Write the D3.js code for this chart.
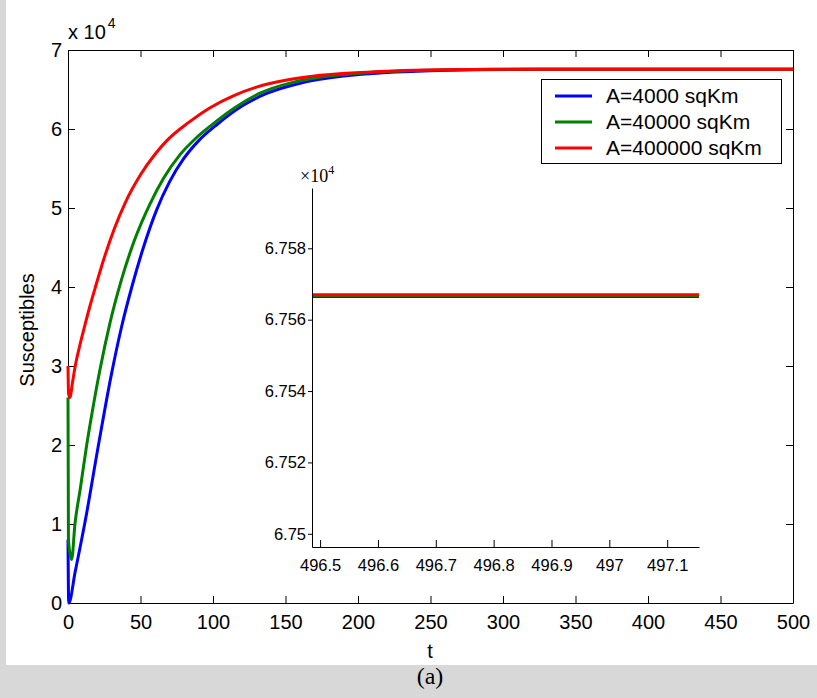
<!DOCTYPE html>
<html>
<head>
<meta charset="utf-8">
<script src="https://cdn.jsdelivr.net/npm/d3@7"></script>
<style>
  body { margin: 0; background: #d8d8d8; }
  svg { display: block; }
</style>
</head>
<body>
<div class="chart-container"></div>
<script>
//! DATA  (susceptibles in units of 10^4)
const SERIES_NAMES = ['A=4000 sqKm', 'A=40000 sqKm', 'A=400000 sqKm'];
const SERIES_COLORS = ['#0000ff', '#007f00', '#ff0000'];

const T_BLUE = [0, 0.5, 5, 12, 21, 30, 37, 44, 52, 61, 70, 80, 90, 103, 120, 137, 160, 190, 220, 250, 280, 320, 500];
const S_BLUE = [0.8, 0, 0.4, 1.05, 2.0, 2.9, 3.5, 4.0, 4.5, 4.97, 5.33, 5.63, 5.85, 6.06, 6.29, 6.45, 6.58, 6.67, 6.715, 6.738, 6.75, 6.7567, 6.7567];

const T_GREEN = [0, 0.3, 2.5, 4.8, 8.5, 12.9, 17, 22, 29, 37, 46, 56.5, 66, 77, 88, 99, 115, 132, 155, 180, 208, 240, 280, 320, 500];
const S_GREEN = [2.6, 0.8, 0.55, 1.0, 1.45, 2.0, 2.45, 2.95, 3.55, 4.1, 4.6, 5.05, 5.38, 5.67, 5.88, 6.05, 6.27, 6.45, 6.59, 6.67, 6.715, 6.74, 6.753, 6.7567, 6.7567];

const T_RED = [0, 0.4, 1.4, 3, 5, 8, 11.7, 15, 18.6, 25, 32, 39.3, 50, 60, 68, 83, 98, 114, 130, 151, 170, 192, 225, 259, 300, 500];
const S_RED = [3.0, 2.65, 2.6, 2.78, 3.0, 3.25, 3.52, 3.75, 3.98, 4.37, 4.74, 5.06, 5.42, 5.68, 5.85, 6.08, 6.27, 6.42, 6.53, 6.62, 6.67, 6.705, 6.735, 6.75, 6.7567, 6.7567];

const X_TICKS = [0, 50, 100, 150, 200, 250, 300, 350, 400, 450, 500];
const Y_TICKS = [0, 1, 2, 3, 4, 5, 6, 7];

// inset: zoom on the tail
const INSET_T = [496.486, 497.155];
const INSET_S_BLUE = [6.75665, 6.75665];
const INSET_S_GREEN = [6.756672, 6.756672];
const INSET_S_RED = [6.7567, 6.7567];
const INSET_X_TICKS = [496.5, 496.6, 496.7, 496.8, 496.9, 497, 497.1];
const INSET_Y_TICKS = [6.75, 6.752, 6.754, 6.756, 6.758];

//! CONSTS
const WIDTH = 817;
const HEIGHT = 698;
const M = { left: 68, top: 50, right: 793, bottom: 603 };
const INS = { left: 312, top: 188, right: 699, bottom: 547 };
const SANS = 'Liberation Sans, Arial, Helvetica, sans-serif';
const SERIF = 'Liberation Serif, Times New Roman, serif';

//! SVG
const svg = d3.select('.chart-container')
  .append('svg')
  .attr('width', WIDTH)
  .attr('height', HEIGHT);

svg.append('rect')
  .attr('x', 6).attr('y', 0)
  .attr('width', WIDTH - 6).attr('height', 665)
  .attr('fill', '#ffffff');

// !SCALES
const x = d3.scaleLinear().domain([0, 500]).range([M.left, M.right]);
const y = d3.scaleLinear().domain([0, 7]).range([M.bottom, M.top]);

const line = d3.line()
  .x(d => x(d[0]))
  .y(d => y(d[1]))
  .curve(d3.curveMonotoneX);

const styleAxis = (g, size) => {
  g.attr('font-family', SANS).attr('font-size', size);
  g.selectAll('line, path').attr('stroke', '#000').attr('stroke-width', 1);
  g.selectAll('text').attr('fill', '#000');
};

// main box axes, ticks pointing inwards like matlab
svg.append('g')
  .attr('transform', `translate(0,${M.bottom})`)
  .call(d3.axisBottom(x).tickValues(X_TICKS).tickSizeInner(-7).tickSizeOuter(0).tickPadding(12)
    .tickFormat(d3.format('d')))
  .call(g => styleAxis(g, 20));

svg.append('g')
  .attr('transform', `translate(0,${M.top})`)
  .call(d3.axisTop(x).tickValues(X_TICKS).tickSizeInner(-7).tickSizeOuter(0).tickFormat(''))
  .call(g => styleAxis(g, 20));

svg.append('g')
  .attr('transform', `translate(${M.left},0)`)
  .call(d3.axisLeft(y).tickValues(Y_TICKS).tickSizeInner(-7).tickSizeOuter(0).tickPadding(6)
    .tickFormat(d3.format('d')))
  .call(g => styleAxis(g, 20));

svg.append('g')
  .attr('transform', `translate(${M.right},0)`)
  .call(d3.axisRight(y).tickValues(Y_TICKS).tickSizeInner(-7).tickSizeOuter(0).tickFormat(''))
  .call(g => styleAxis(g, 20));

// curves
const mainSeries = [
  d3.zip(T_BLUE, S_BLUE),
  d3.zip(T_GREEN, S_GREEN),
  d3.zip(T_RED, S_RED)
];

svg.append('g')
  .selectAll('path')
  .data(mainSeries)
  .enter()
  .append('path')
  .attr('d', line)
  .attr('fill', 'none')
  .attr('stroke', (d, i) => SERIES_COLORS[i])
  .attr('stroke-width', 3)
  .attr('stroke-linejoin', 'round');

// exponent label
const expo = svg.append('text')
  .attr('x', 68).attr('y', 39)
  .attr('font-family', SANS).attr('font-size', 20)
  .text('x 10');
expo.append('tspan')
  .attr('dy', -11).attr('dx', 2)
  .attr('font-size', 14)
  .text('4');

// axis titles
svg.append('text')
  .attr('x', 430).attr('y', 658)
  .attr('text-anchor', 'middle')
  .attr('font-family', SANS).attr('font-size', 20)
  .text('t');

svg.append('text')
  .attr('transform', 'translate(34,330) rotate(-90)')
  .attr('text-anchor', 'middle')
  .attr('font-family', SANS).attr('font-size', 20)
  .text('Susceptibles');

svg.append('text')
  .attr('x', 430).attr('y', 684)
  .attr('text-anchor', 'middle')
  .attr('font-family', SERIF).attr('font-size', 24)
  .text('(a)');

//! LEGEND
const legend = svg.append('g').attr('id', 'legend');
legend.append('rect')
  .attr('x', 541.5).attr('y', 79.5)
  .attr('width', 240).attr('height', 84)
  .attr('fill', '#fff')
  .attr('stroke', '#000');

const rows = legend.selectAll('g.row')
  .data(SERIES_NAMES)
  .enter()
  .append('g')
  .attr('class', 'row')
  .attr('transform', (d, i) => `translate(0,${96 + i * 26})`);

rows.append('line')
  .attr('x1', 555).attr('x2', 592)
  .attr('stroke', (d, i) => SERIES_COLORS[i])
  .attr('stroke-width', 3);

rows.append('text')
  .attr('x', 606).attr('y', 7)
  .attr('font-family', SANS).attr('font-size', 21)
  .text(d => d);

//! INSET
const ix = d3.scaleLinear().domain(INSET_T).range([INS.left, INS.right]);
const iy = d3.scaleLinear().domain([6.74963, 6.75969]).range([INS.bottom, INS.top]);

const insetSeries = [
  d3.zip(INSET_T, INSET_S_BLUE),
  d3.zip(INSET_T, INSET_S_GREEN),
  d3.zip(INSET_T, INSET_S_RED)
];

const inset = svg.append('g').attr('id', 'inset');

inset.selectAll('path.series')
  .data(insetSeries)
  .enter()
  .append('path')
  .attr('class', 'series')
  .attr('d', d3.line().x(d => ix(d[0])).y(d => iy(d[1])))
  .attr('fill', 'none')
  .attr('stroke', (d, i) => SERIES_COLORS[i])
  .attr('stroke-width', 3);

inset.append('g')
  .attr('transform', `translate(0,${INS.bottom})`)
  .call(d3.axisBottom(ix).tickValues(INSET_X_TICKS).tickSizeInner(-7).tickSizeOuter(0).tickPadding(12)
    .tickFormat(d => String(+d.toFixed(1))))
  .call(g => styleAxis(g, 16.5));

inset.append('g')
  .attr('transform', `translate(${INS.left},0)`)
  .call(d3.axisLeft(iy).tickValues(INSET_Y_TICKS).tickSizeInner(4).tickSizeOuter(0).tickPadding(2)
    .tickFormat(d => String(+d.toFixed(3))))
  .call(g => styleAxis(g, 16.5));

const iexpo = inset.append('text')
  .attr('x', 300).attr('y', 182)
  .attr('font-family', SERIF).attr('font-size', 18)
  .text('\u00d710');
iexpo.append('tspan')
  .attr('dy', -8)
  .attr('font-size', 12)
  .text('4');
</script>
</body>
</html>
